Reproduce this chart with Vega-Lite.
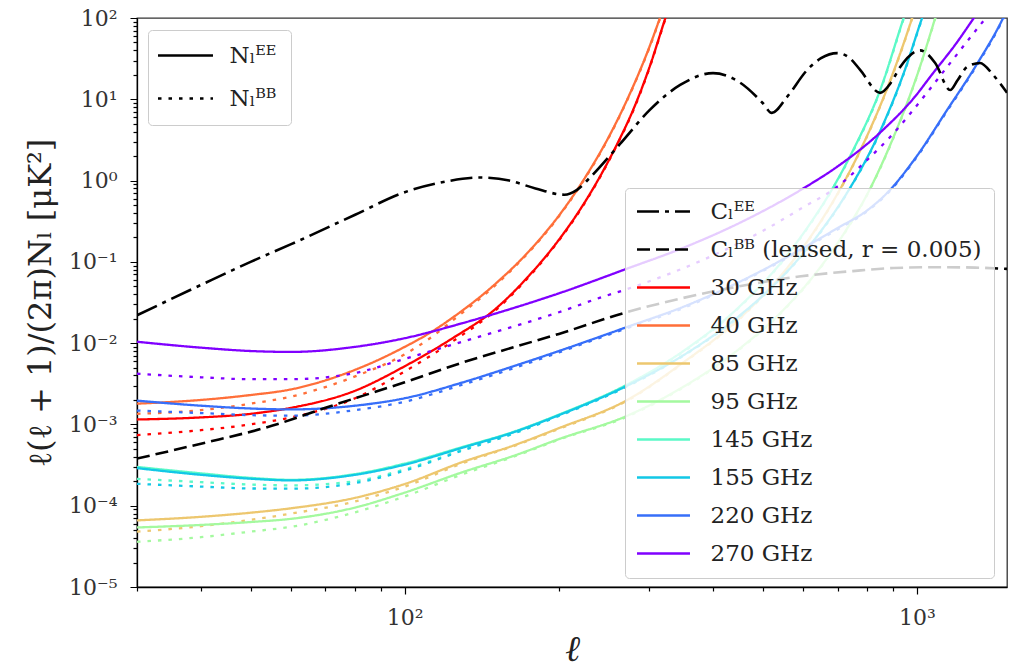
{
  "$schema": "https://vega.github.io/schema/vega-lite/v6.json",
  "width": 870,
  "height": 569,
  "autosize": "none",
  "padding": {"left": 137, "top": 18, "right": 2, "bottom": 82},
  "background": "white",
  "config": {"view": {"stroke": "#333333", "strokeWidth": 1.3}, "font": "DejaVu Serif"},
  "data": {"values": [
    {"s":"30 GHz","p":"Nₗᴱᴱ","l":30,"v":0.00115},{"s":"30 GHz","p":"Nₗᴱᴱ","l":40,"v":0.00122},{"s":"30 GHz","p":"Nₗᴱᴱ","l":50,"v":0.00135},{"s":"30 GHz","p":"Nₗᴱᴱ","l":60,"v":0.0016},{"s":"30 GHz","p":"Nₗᴱᴱ","l":80,"v":0.0026},{"s":"30 GHz","p":"Nₗᴱᴱ","l":100,"v":0.0052},{"s":"30 GHz","p":"Nₗᴱᴱ","l":124,"v":0.0115},{"s":"30 GHz","p":"Nₗᴱᴱ","l":150,"v":0.026},{"s":"30 GHz","p":"Nₗᴱᴱ","l":175,"v":0.068},{"s":"30 GHz","p":"Nₗᴱᴱ","l":200,"v":0.187},{"s":"30 GHz","p":"Nₗᴱᴱ","l":220,"v":0.44},{"s":"30 GHz","p":"Nₗᴱᴱ","l":240,"v":1.09},{"s":"30 GHz","p":"Nₗᴱᴱ","l":260,"v":2.83},{"s":"30 GHz","p":"Nₗᴱᴱ","l":280,"v":7.7},{"s":"30 GHz","p":"Nₗᴱᴱ","l":300,"v":24},{"s":"30 GHz","p":"Nₗᴱᴱ","l":322,"v":95},{"s":"30 GHz","p":"Nₗᴱᴱ","l":345,"v":350},
    {"s":"30 GHz","p":"Nₗᴮᴮ","l":30,"v":0.00074},{"s":"30 GHz","p":"Nₗᴮᴮ","l":40,"v":0.00085},{"s":"30 GHz","p":"Nₗᴮᴮ","l":50,"v":0.001},{"s":"30 GHz","p":"Nₗᴮᴮ","l":60,"v":0.00122},{"s":"30 GHz","p":"Nₗᴮᴮ","l":80,"v":0.0021},{"s":"30 GHz","p":"Nₗᴮᴮ","l":100,"v":0.0045},{"s":"30 GHz","p":"Nₗᴮᴮ","l":124,"v":0.0105},{"s":"30 GHz","p":"Nₗᴮᴮ","l":150,"v":0.025},{"s":"30 GHz","p":"Nₗᴮᴮ","l":175,"v":0.066},{"s":"30 GHz","p":"Nₗᴮᴮ","l":200,"v":0.183},{"s":"30 GHz","p":"Nₗᴮᴮ","l":220,"v":0.43},{"s":"30 GHz","p":"Nₗᴮᴮ","l":240,"v":1.07},{"s":"30 GHz","p":"Nₗᴮᴮ","l":260,"v":2.78},{"s":"30 GHz","p":"Nₗᴮᴮ","l":280,"v":7.5},{"s":"30 GHz","p":"Nₗᴮᴮ","l":300,"v":23.5},{"s":"30 GHz","p":"Nₗᴮᴮ","l":322,"v":93},{"s":"30 GHz","p":"Nₗᴮᴮ","l":345,"v":340},
    {"s":"40 GHz","p":"Nₗᴱᴱ","l":30,"v":0.0018},{"s":"40 GHz","p":"Nₗᴱᴱ","l":40,"v":0.002},{"s":"40 GHz","p":"Nₗᴱᴱ","l":50,"v":0.0023},{"s":"40 GHz","p":"Nₗᴱᴱ","l":60,"v":0.0027},{"s":"40 GHz","p":"Nₗᴱᴱ","l":80,"v":0.0047},{"s":"40 GHz","p":"Nₗᴱᴱ","l":100,"v":0.009},{"s":"40 GHz","p":"Nₗᴱᴱ","l":112,"v":0.0134},{"s":"40 GHz","p":"Nₗᴱᴱ","l":124,"v":0.0206},{"s":"40 GHz","p":"Nₗᴱᴱ","l":150,"v":0.053},{"s":"40 GHz","p":"Nₗᴱᴱ","l":175,"v":0.136},{"s":"40 GHz","p":"Nₗᴱᴱ","l":200,"v":0.37},{"s":"40 GHz","p":"Nₗᴱᴱ","l":225,"v":1.09},{"s":"40 GHz","p":"Nₗᴱᴱ","l":250,"v":3.4},{"s":"40 GHz","p":"Nₗᴱᴱ","l":275,"v":11.6},{"s":"40 GHz","p":"Nₗᴱᴱ","l":300,"v":43},{"s":"40 GHz","p":"Nₗᴱᴱ","l":315,"v":100},{"s":"40 GHz","p":"Nₗᴱᴱ","l":335,"v":310},
    {"s":"40 GHz","p":"Nₗᴮᴮ","l":30,"v":0.00135},{"s":"40 GHz","p":"Nₗᴮᴮ","l":40,"v":0.0015},{"s":"40 GHz","p":"Nₗᴮᴮ","l":50,"v":0.0018},{"s":"40 GHz","p":"Nₗᴮᴮ","l":60,"v":0.0022},{"s":"40 GHz","p":"Nₗᴮᴮ","l":80,"v":0.0039},{"s":"40 GHz","p":"Nₗᴮᴮ","l":100,"v":0.0073},{"s":"40 GHz","p":"Nₗᴮᴮ","l":112,"v":0.0115},{"s":"40 GHz","p":"Nₗᴮᴮ","l":124,"v":0.019},{"s":"40 GHz","p":"Nₗᴮᴮ","l":150,"v":0.051},{"s":"40 GHz","p":"Nₗᴮᴮ","l":175,"v":0.133},{"s":"40 GHz","p":"Nₗᴮᴮ","l":200,"v":0.363},{"s":"40 GHz","p":"Nₗᴮᴮ","l":225,"v":1.07},{"s":"40 GHz","p":"Nₗᴮᴮ","l":250,"v":3.33},{"s":"40 GHz","p":"Nₗᴮᴮ","l":275,"v":11.4},{"s":"40 GHz","p":"Nₗᴮᴮ","l":300,"v":42},{"s":"40 GHz","p":"Nₗᴮᴮ","l":315,"v":98},{"s":"40 GHz","p":"Nₗᴮᴮ","l":335,"v":300},
    {"s":"85 GHz","p":"Nₗᴱᴱ","l":30,"v":0.000066},{"s":"85 GHz","p":"Nₗᴱᴱ","l":40,"v":0.000073},{"s":"85 GHz","p":"Nₗᴱᴱ","l":50,"v":0.000082},{"s":"85 GHz","p":"Nₗᴱᴱ","l":60,"v":0.000093},{"s":"85 GHz","p":"Nₗᴱᴱ","l":80,"v":0.000125},{"s":"85 GHz","p":"Nₗᴱᴱ","l":100,"v":0.000185},{"s":"85 GHz","p":"Nₗᴱᴱ","l":130,"v":0.000347},{"s":"85 GHz","p":"Nₗᴱᴱ","l":163,"v":0.00055},{"s":"85 GHz","p":"Nₗᴱᴱ","l":200,"v":0.0009},{"s":"85 GHz","p":"Nₗᴱᴱ","l":272,"v":0.002},{"s":"85 GHz","p":"Nₗᴱᴱ","l":350,"v":0.0058},{"s":"85 GHz","p":"Nₗᴱᴱ","l":450,"v":0.02},{"s":"85 GHz","p":"Nₗᴱᴱ","l":550,"v":0.075},{"s":"85 GHz","p":"Nₗᴱᴱ","l":630,"v":0.236},{"s":"85 GHz","p":"Nₗᴱᴱ","l":702,"v":0.71},{"s":"85 GHz","p":"Nₗᴱᴱ","l":780,"v":2.54},{"s":"85 GHz","p":"Nₗᴱᴱ","l":880,"v":14.9},{"s":"85 GHz","p":"Nₗᴱᴱ","l":979,"v":100},{"s":"85 GHz","p":"Nₗᴱᴱ","l":1050,"v":430},
    {"s":"85 GHz","p":"Nₗᴮᴮ","l":30,"v":0.000048},{"s":"85 GHz","p":"Nₗᴮᴮ","l":40,"v":0.000056},{"s":"85 GHz","p":"Nₗᴮᴮ","l":50,"v":0.000067},{"s":"85 GHz","p":"Nₗᴮᴮ","l":60,"v":0.00008},{"s":"85 GHz","p":"Nₗᴮᴮ","l":80,"v":0.000113},{"s":"85 GHz","p":"Nₗᴮᴮ","l":100,"v":0.000172},{"s":"85 GHz","p":"Nₗᴮᴮ","l":130,"v":0.000335},{"s":"85 GHz","p":"Nₗᴮᴮ","l":163,"v":0.00054},{"s":"85 GHz","p":"Nₗᴮᴮ","l":200,"v":0.00088},{"s":"85 GHz","p":"Nₗᴮᴮ","l":272,"v":0.00196},{"s":"85 GHz","p":"Nₗᴮᴮ","l":350,"v":0.0057},{"s":"85 GHz","p":"Nₗᴮᴮ","l":450,"v":0.0196},{"s":"85 GHz","p":"Nₗᴮᴮ","l":550,"v":0.0735},{"s":"85 GHz","p":"Nₗᴮᴮ","l":630,"v":0.231},{"s":"85 GHz","p":"Nₗᴮᴮ","l":702,"v":0.7},{"s":"85 GHz","p":"Nₗᴮᴮ","l":780,"v":2.5},{"s":"85 GHz","p":"Nₗᴮᴮ","l":880,"v":14.6},{"s":"85 GHz","p":"Nₗᴮᴮ","l":979,"v":98},{"s":"85 GHz","p":"Nₗᴮᴮ","l":1050,"v":420},
    {"s":"95 GHz","p":"Nₗᴱᴱ","l":30,"v":0.000054},{"s":"95 GHz","p":"Nₗᴱᴱ","l":40,"v":0.000058},{"s":"95 GHz","p":"Nₗᴱᴱ","l":50,"v":0.000063},{"s":"95 GHz","p":"Nₗᴱᴱ","l":60,"v":0.000069},{"s":"95 GHz","p":"Nₗᴱᴱ","l":80,"v":0.000095},{"s":"95 GHz","p":"Nₗᴱᴱ","l":100,"v":0.000145},{"s":"95 GHz","p":"Nₗᴱᴱ","l":130,"v":0.00026},{"s":"95 GHz","p":"Nₗᴱᴱ","l":163,"v":0.00041},{"s":"95 GHz","p":"Nₗᴱᴱ","l":200,"v":0.00066},{"s":"95 GHz","p":"Nₗᴱᴱ","l":272,"v":0.00128},{"s":"95 GHz","p":"Nₗᴱᴱ","l":350,"v":0.0029},{"s":"95 GHz","p":"Nₗᴱᴱ","l":450,"v":0.0085},{"s":"95 GHz","p":"Nₗᴱᴱ","l":550,"v":0.026},{"s":"95 GHz","p":"Nₗᴱᴱ","l":650,"v":0.088},{"s":"95 GHz","p":"Nₗᴱᴱ","l":730,"v":0.254},{"s":"95 GHz","p":"Nₗᴱᴱ","l":803,"v":0.71},{"s":"95 GHz","p":"Nₗᴱᴱ","l":900,"v":3.4},{"s":"95 GHz","p":"Nₗᴱᴱ","l":1000,"v":19.3},{"s":"95 GHz","p":"Nₗᴱᴱ","l":1086,"v":100},{"s":"95 GHz","p":"Nₗᴱᴱ","l":1150,"v":340},
    {"s":"95 GHz","p":"Nₗᴮᴮ","l":30,"v":0.000036},{"s":"95 GHz","p":"Nₗᴮᴮ","l":40,"v":0.000041},{"s":"95 GHz","p":"Nₗᴮᴮ","l":50,"v":0.000048},{"s":"95 GHz","p":"Nₗᴮᴮ","l":60,"v":0.000055},{"s":"95 GHz","p":"Nₗᴮᴮ","l":80,"v":0.000083},{"s":"95 GHz","p":"Nₗᴮᴮ","l":100,"v":0.00013},{"s":"95 GHz","p":"Nₗᴮᴮ","l":130,"v":0.000245},{"s":"95 GHz","p":"Nₗᴮᴮ","l":163,"v":0.0004},{"s":"95 GHz","p":"Nₗᴮᴮ","l":200,"v":0.00065},{"s":"95 GHz","p":"Nₗᴮᴮ","l":272,"v":0.00125},{"s":"95 GHz","p":"Nₗᴮᴮ","l":350,"v":0.00284},{"s":"95 GHz","p":"Nₗᴮᴮ","l":450,"v":0.0083},{"s":"95 GHz","p":"Nₗᴮᴮ","l":550,"v":0.0255},{"s":"95 GHz","p":"Nₗᴮᴮ","l":650,"v":0.086},{"s":"95 GHz","p":"Nₗᴮᴮ","l":730,"v":0.249},{"s":"95 GHz","p":"Nₗᴮᴮ","l":803,"v":0.7},{"s":"95 GHz","p":"Nₗᴮᴮ","l":900,"v":3.33},{"s":"95 GHz","p":"Nₗᴮᴮ","l":1000,"v":19},{"s":"95 GHz","p":"Nₗᴮᴮ","l":1086,"v":98},{"s":"95 GHz","p":"Nₗᴮᴮ","l":1150,"v":335},
    {"s":"145 GHz","p":"Nₗᴱᴱ","l":30,"v":0.0003},{"s":"145 GHz","p":"Nₗᴱᴱ","l":40,"v":0.00025},{"s":"145 GHz","p":"Nₗᴱᴱ","l":50,"v":0.00022},{"s":"145 GHz","p":"Nₗᴱᴱ","l":60,"v":0.000208},{"s":"145 GHz","p":"Nₗᴱᴱ","l":80,"v":0.000245},{"s":"145 GHz","p":"Nₗᴱᴱ","l":100,"v":0.00033},{"s":"145 GHz","p":"Nₗᴱᴱ","l":130,"v":0.00053},{"s":"145 GHz","p":"Nₗᴱᴱ","l":163,"v":0.00081},{"s":"145 GHz","p":"Nₗᴱᴱ","l":200,"v":0.00132},{"s":"145 GHz","p":"Nₗᴱᴱ","l":272,"v":0.0031},{"s":"145 GHz","p":"Nₗᴱᴱ","l":350,"v":0.008},{"s":"145 GHz","p":"Nₗᴱᴱ","l":450,"v":0.028},{"s":"145 GHz","p":"Nₗᴱᴱ","l":550,"v":0.108},{"s":"145 GHz","p":"Nₗᴱᴱ","l":620,"v":0.3},{"s":"145 GHz","p":"Nₗᴱᴱ","l":677,"v":0.71},{"s":"145 GHz","p":"Nₗᴱᴱ","l":750,"v":2.33},{"s":"145 GHz","p":"Nₗᴱᴱ","l":850,"v":13.5},{"s":"145 GHz","p":"Nₗᴱᴱ","l":940,"v":95},{"s":"145 GHz","p":"Nₗᴱᴱ","l":1000,"v":300},
    {"s":"145 GHz","p":"Nₗᴮᴮ","l":30,"v":0.000214},{"s":"145 GHz","p":"Nₗᴮᴮ","l":40,"v":0.000195},{"s":"145 GHz","p":"Nₗᴮᴮ","l":50,"v":0.000182},{"s":"145 GHz","p":"Nₗᴮᴮ","l":60,"v":0.000178},{"s":"145 GHz","p":"Nₗᴮᴮ","l":80,"v":0.0002},{"s":"145 GHz","p":"Nₗᴮᴮ","l":100,"v":0.00028},{"s":"145 GHz","p":"Nₗᴮᴮ","l":130,"v":0.00049},{"s":"145 GHz","p":"Nₗᴮᴮ","l":163,"v":0.00078},{"s":"145 GHz","p":"Nₗᴮᴮ","l":200,"v":0.0013},{"s":"145 GHz","p":"Nₗᴮᴮ","l":272,"v":0.00304},{"s":"145 GHz","p":"Nₗᴮᴮ","l":350,"v":0.0078},{"s":"145 GHz","p":"Nₗᴮᴮ","l":450,"v":0.0275},{"s":"145 GHz","p":"Nₗᴮᴮ","l":550,"v":0.106},{"s":"145 GHz","p":"Nₗᴮᴮ","l":620,"v":0.294},{"s":"145 GHz","p":"Nₗᴮᴮ","l":677,"v":0.7},{"s":"145 GHz","p":"Nₗᴮᴮ","l":750,"v":2.28},{"s":"145 GHz","p":"Nₗᴮᴮ","l":850,"v":13.2},{"s":"145 GHz","p":"Nₗᴮᴮ","l":940,"v":93},{"s":"145 GHz","p":"Nₗᴮᴮ","l":1000,"v":295},
    {"s":"155 GHz","p":"Nₗᴱᴱ","l":30,"v":0.00029},{"s":"155 GHz","p":"Nₗᴱᴱ","l":40,"v":0.00024},{"s":"155 GHz","p":"Nₗᴱᴱ","l":50,"v":0.000215},{"s":"155 GHz","p":"Nₗᴱᴱ","l":60,"v":0.000205},{"s":"155 GHz","p":"Nₗᴱᴱ","l":80,"v":0.00024},{"s":"155 GHz","p":"Nₗᴱᴱ","l":100,"v":0.00032},{"s":"155 GHz","p":"Nₗᴱᴱ","l":130,"v":0.00052},{"s":"155 GHz","p":"Nₗᴱᴱ","l":163,"v":0.0008},{"s":"155 GHz","p":"Nₗᴱᴱ","l":200,"v":0.0013},{"s":"155 GHz","p":"Nₗᴱᴱ","l":272,"v":0.003},{"s":"155 GHz","p":"Nₗᴱᴱ","l":350,"v":0.0071},{"s":"155 GHz","p":"Nₗᴱᴱ","l":450,"v":0.0216},{"s":"155 GHz","p":"Nₗᴱᴱ","l":550,"v":0.069},{"s":"155 GHz","p":"Nₗᴱᴱ","l":650,"v":0.24},{"s":"155 GHz","p":"Nₗᴱᴱ","l":731,"v":0.71},{"s":"155 GHz","p":"Nₗᴱᴱ","l":850,"v":4.2},{"s":"155 GHz","p":"Nₗᴱᴱ","l":950,"v":24},{"s":"155 GHz","p":"Nₗᴱᴱ","l":1024,"v":100},{"s":"155 GHz","p":"Nₗᴱᴱ","l":1100,"v":330},
    {"s":"155 GHz","p":"Nₗᴮᴮ","l":30,"v":0.000186},{"s":"155 GHz","p":"Nₗᴮᴮ","l":40,"v":0.000172},{"s":"155 GHz","p":"Nₗᴮᴮ","l":50,"v":0.000163},{"s":"155 GHz","p":"Nₗᴮᴮ","l":60,"v":0.000162},{"s":"155 GHz","p":"Nₗᴮᴮ","l":80,"v":0.00019},{"s":"155 GHz","p":"Nₗᴮᴮ","l":100,"v":0.00027},{"s":"155 GHz","p":"Nₗᴮᴮ","l":130,"v":0.00048},{"s":"155 GHz","p":"Nₗᴮᴮ","l":163,"v":0.00077},{"s":"155 GHz","p":"Nₗᴮᴮ","l":200,"v":0.00127},{"s":"155 GHz","p":"Nₗᴮᴮ","l":272,"v":0.00294},{"s":"155 GHz","p":"Nₗᴮᴮ","l":350,"v":0.007},{"s":"155 GHz","p":"Nₗᴮᴮ","l":450,"v":0.0212},{"s":"155 GHz","p":"Nₗᴮᴮ","l":550,"v":0.068},{"s":"155 GHz","p":"Nₗᴮᴮ","l":650,"v":0.235},{"s":"155 GHz","p":"Nₗᴮᴮ","l":731,"v":0.7},{"s":"155 GHz","p":"Nₗᴮᴮ","l":850,"v":4.1},{"s":"155 GHz","p":"Nₗᴮᴮ","l":950,"v":23.5},{"s":"155 GHz","p":"Nₗᴮᴮ","l":1024,"v":98},{"s":"155 GHz","p":"Nₗᴮᴮ","l":1100,"v":325},
    {"s":"220 GHz","p":"Nₗᴱᴱ","l":30,"v":0.00196},{"s":"220 GHz","p":"Nₗᴱᴱ","l":40,"v":0.0017},{"s":"220 GHz","p":"Nₗᴱᴱ","l":50,"v":0.00157},{"s":"220 GHz","p":"Nₗᴱᴱ","l":60,"v":0.00153},{"s":"220 GHz","p":"Nₗᴱᴱ","l":80,"v":0.0017},{"s":"220 GHz","p":"Nₗᴱᴱ","l":100,"v":0.0021},{"s":"220 GHz","p":"Nₗᴱᴱ","l":130,"v":0.0033},{"s":"220 GHz","p":"Nₗᴱᴱ","l":163,"v":0.0052},{"s":"220 GHz","p":"Nₗᴱᴱ","l":200,"v":0.008},{"s":"220 GHz","p":"Nₗᴱᴱ","l":271,"v":0.0157},{"s":"220 GHz","p":"Nₗᴱᴱ","l":350,"v":0.028},{"s":"220 GHz","p":"Nₗᴱᴱ","l":400,"v":0.04},{"s":"220 GHz","p":"Nₗᴱᴱ","l":500,"v":0.079},{"s":"220 GHz","p":"Nₗᴱᴱ","l":600,"v":0.148},{"s":"220 GHz","p":"Nₗᴱᴱ","l":700,"v":0.26},{"s":"220 GHz","p":"Nₗᴱᴱ","l":800,"v":0.43},{"s":"220 GHz","p":"Nₗᴱᴱ","l":876,"v":0.71},{"s":"220 GHz","p":"Nₗᴱᴱ","l":1000,"v":2.0},{"s":"220 GHz","p":"Nₗᴱᴱ","l":1146,"v":7.4},{"s":"220 GHz","p":"Nₗᴱᴱ","l":1300,"v":25},{"s":"220 GHz","p":"Nₗᴱᴱ","l":1474,"v":100},{"s":"220 GHz","p":"Nₗᴱᴱ","l":1550,"v":200},
    {"s":"220 GHz","p":"Nₗᴮᴮ","l":30,"v":0.00148},{"s":"220 GHz","p":"Nₗᴮᴮ","l":40,"v":0.00138},{"s":"220 GHz","p":"Nₗᴮᴮ","l":50,"v":0.0013},{"s":"220 GHz","p":"Nₗᴮᴮ","l":60,"v":0.00128},{"s":"220 GHz","p":"Nₗᴮᴮ","l":80,"v":0.0015},{"s":"220 GHz","p":"Nₗᴮᴮ","l":100,"v":0.0019},{"s":"220 GHz","p":"Nₗᴮᴮ","l":130,"v":0.0031},{"s":"220 GHz","p":"Nₗᴮᴮ","l":163,"v":0.0049},{"s":"220 GHz","p":"Nₗᴮᴮ","l":200,"v":0.0077},{"s":"220 GHz","p":"Nₗᴮᴮ","l":271,"v":0.0152},{"s":"220 GHz","p":"Nₗᴮᴮ","l":350,"v":0.027},{"s":"220 GHz","p":"Nₗᴮᴮ","l":400,"v":0.039},{"s":"220 GHz","p":"Nₗᴮᴮ","l":500,"v":0.077},{"s":"220 GHz","p":"Nₗᴮᴮ","l":600,"v":0.144},{"s":"220 GHz","p":"Nₗᴮᴮ","l":700,"v":0.25},{"s":"220 GHz","p":"Nₗᴮᴮ","l":800,"v":0.42},{"s":"220 GHz","p":"Nₗᴮᴮ","l":876,"v":0.69},{"s":"220 GHz","p":"Nₗᴮᴮ","l":1000,"v":1.95},{"s":"220 GHz","p":"Nₗᴮᴮ","l":1146,"v":7.2},{"s":"220 GHz","p":"Nₗᴮᴮ","l":1300,"v":24.3},{"s":"220 GHz","p":"Nₗᴮᴮ","l":1474,"v":97},{"s":"220 GHz","p":"Nₗᴮᴮ","l":1550,"v":195},
    {"s":"270 GHz","p":"Nₗᴱᴱ","l":30,"v":0.0104},{"s":"270 GHz","p":"Nₗᴱᴱ","l":40,"v":0.0088},{"s":"270 GHz","p":"Nₗᴱᴱ","l":50,"v":0.008},{"s":"270 GHz","p":"Nₗᴱᴱ","l":60,"v":0.0078},{"s":"270 GHz","p":"Nₗᴱᴱ","l":80,"v":0.009},{"s":"270 GHz","p":"Nₗᴱᴱ","l":100,"v":0.0115},{"s":"270 GHz","p":"Nₗᴱᴱ","l":130,"v":0.0177},{"s":"270 GHz","p":"Nₗᴱᴱ","l":163,"v":0.027},{"s":"270 GHz","p":"Nₗᴱᴱ","l":200,"v":0.041},{"s":"270 GHz","p":"Nₗᴱᴱ","l":271,"v":0.082},{"s":"270 GHz","p":"Nₗᴱᴱ","l":350,"v":0.149},{"s":"270 GHz","p":"Nₗᴱᴱ","l":450,"v":0.3},{"s":"270 GHz","p":"Nₗᴱᴱ","l":596,"v":0.78},{"s":"270 GHz","p":"Nₗᴱᴱ","l":700,"v":1.49},{"s":"270 GHz","p":"Nₗᴱᴱ","l":848,"v":3.9},{"s":"270 GHz","p":"Nₗᴱᴱ","l":1000,"v":11.5},{"s":"270 GHz","p":"Nₗᴱᴱ","l":1062,"v":18.9},{"s":"270 GHz","p":"Nₗᴱᴱ","l":1200,"v":51},{"s":"270 GHz","p":"Nₗᴱᴱ","l":1288,"v":97},{"s":"270 GHz","p":"Nₗᴱᴱ","l":1400,"v":205},
    {"s":"270 GHz","p":"Nₗᴮᴮ","l":30,"v":0.0042},{"s":"270 GHz","p":"Nₗᴮᴮ","l":40,"v":0.0038},{"s":"270 GHz","p":"Nₗᴮᴮ","l":50,"v":0.0036},{"s":"270 GHz","p":"Nₗᴮᴮ","l":60,"v":0.0036},{"s":"270 GHz","p":"Nₗᴮᴮ","l":80,"v":0.0043},{"s":"270 GHz","p":"Nₗᴮᴮ","l":100,"v":0.0064},{"s":"270 GHz","p":"Nₗᴮᴮ","l":130,"v":0.0105},{"s":"270 GHz","p":"Nₗᴮᴮ","l":163,"v":0.016},{"s":"270 GHz","p":"Nₗᴮᴮ","l":200,"v":0.024},{"s":"270 GHz","p":"Nₗᴮᴮ","l":240,"v":0.036},{"s":"270 GHz","p":"Nₗᴮᴮ","l":271,"v":0.046},{"s":"270 GHz","p":"Nₗᴮᴮ","l":400,"v":0.12},{"s":"270 GHz","p":"Nₗᴮᴮ","l":500,"v":0.24},{"s":"270 GHz","p":"Nₗᴮᴮ","l":600,"v":0.47},{"s":"270 GHz","p":"Nₗᴮᴮ","l":699,"v":0.84},{"s":"270 GHz","p":"Nₗᴮᴮ","l":800,"v":1.8},{"s":"270 GHz","p":"Nₗᴮᴮ","l":900,"v":3.8},{"s":"270 GHz","p":"Nₗᴮᴮ","l":984,"v":7.4},{"s":"270 GHz","p":"Nₗᴮᴮ","l":1146,"v":25},{"s":"270 GHz","p":"Nₗᴮᴮ","l":1349,"v":92},{"s":"270 GHz","p":"Nₗᴮᴮ","l":1450,"v":160},
    {"s":"Cₗᴱᴱ","p":"C","l":30,"v":0.022},{"s":"Cₗᴱᴱ","p":"C","l":40,"v":0.052},{"s":"Cₗᴱᴱ","p":"C","l":50,"v":0.1},{"s":"Cₗᴱᴱ","p":"C","l":60,"v":0.165},{"s":"Cₗᴱᴱ","p":"C","l":80,"v":0.38},{"s":"Cₗᴱᴱ","p":"C","l":100,"v":0.72},{"s":"Cₗᴱᴱ","p":"C","l":120,"v":0.97},{"s":"Cₗᴱᴱ","p":"C","l":140,"v":1.09},{"s":"Cₗᴱᴱ","p":"C","l":160,"v":1.0},{"s":"Cₗᴱᴱ","p":"C","l":180,"v":0.8},{"s":"Cₗᴱᴱ","p":"C","l":205,"v":0.67},{"s":"Cₗᴱᴱ","p":"C","l":217,"v":0.77},{"s":"Cₗᴱᴱ","p":"C","l":230,"v":1.09},{"s":"Cₗᴱᴱ","p":"C","l":263,"v":2.8},{"s":"Cₗᴱᴱ","p":"C","l":301,"v":7.4},{"s":"Cₗᴱᴱ","p":"C","l":345,"v":15},{"s":"Cₗᴱᴱ","p":"C","l":400,"v":21},{"s":"Cₗᴱᴱ","p":"C","l":452,"v":16},{"s":"Cₗᴱᴱ","p":"C","l":500,"v":9.0},{"s":"Cₗᴱᴱ","p":"C","l":521,"v":6.8},{"s":"Cₗᴱᴱ","p":"C","l":558,"v":10.7},{"s":"Cₗᴱᴱ","p":"C","l":611,"v":23},{"s":"Cₗᴱᴱ","p":"C","l":650,"v":32},{"s":"Cₗᴱᴱ","p":"C","l":699,"v":37},{"s":"Cₗᴱᴱ","p":"C","l":740,"v":32},{"s":"Cₗᴱᴱ","p":"C","l":775,"v":23},{"s":"Cₗᴱᴱ","p":"C","l":848,"v":12},{"s":"Cₗᴱᴱ","p":"C","l":890,"v":16},{"s":"Cₗᴱᴱ","p":"C","l":928,"v":25},{"s":"Cₗᴱᴱ","p":"C","l":1015,"v":40},{"s":"Cₗᴱᴱ","p":"C","l":1086,"v":28},{"s":"Cₗᴱᴱ","p":"C","l":1162,"v":13},{"s":"Cₗᴱᴱ","p":"C","l":1200,"v":17},{"s":"Cₗᴱᴱ","p":"C","l":1254,"v":25},{"s":"Cₗᴱᴱ","p":"C","l":1329,"v":28},{"s":"Cₗᴱᴱ","p":"C","l":1409,"v":20},{"s":"Cₗᴱᴱ","p":"C","l":1500,"v":12},
    {"s":"Cₗᴮᴮ (lensed, r = 0.005)","p":"C","l":30,"v":0.00038},{"s":"Cₗᴮᴮ (lensed, r = 0.005)","p":"C","l":40,"v":0.00058},{"s":"Cₗᴮᴮ (lensed, r = 0.005)","p":"C","l":55,"v":0.00096},{"s":"Cₗᴮᴮ (lensed, r = 0.005)","p":"C","l":70,"v":0.0016},{"s":"Cₗᴮᴮ (lensed, r = 0.005)","p":"C","l":100,"v":0.0033},{"s":"Cₗᴮᴮ (lensed, r = 0.005)","p":"C","l":130,"v":0.0058},{"s":"Cₗᴮᴮ (lensed, r = 0.005)","p":"C","l":163,"v":0.0089},{"s":"Cₗᴮᴮ (lensed, r = 0.005)","p":"C","l":200,"v":0.013},{"s":"Cₗᴮᴮ (lensed, r = 0.005)","p":"C","l":271,"v":0.024},{"s":"Cₗᴮᴮ (lensed, r = 0.005)","p":"C","l":350,"v":0.036},{"s":"Cₗᴮᴮ (lensed, r = 0.005)","p":"C","l":450,"v":0.05},{"s":"Cₗᴮᴮ (lensed, r = 0.005)","p":"C","l":589,"v":0.066},{"s":"Cₗᴮᴮ (lensed, r = 0.005)","p":"C","l":750,"v":0.077},{"s":"Cₗᴮᴮ (lensed, r = 0.005)","p":"C","l":900,"v":0.084},{"s":"Cₗᴮᴮ (lensed, r = 0.005)","p":"C","l":1100,"v":0.086},{"s":"Cₗᴮᴮ (lensed, r = 0.005)","p":"C","l":1300,"v":0.085},{"s":"Cₗᴮᴮ (lensed, r = 0.005)","p":"C","l":1500,"v":0.082}
  ]},
  "encoding": {
    "x": {
      "field": "l", "type": "quantitative",
      "scale": {"type": "log", "domain": [30, 1500], "nice": false},
      "axis": {
        "title": "ℓ", "titleFont": "DejaVu Serif", "titleFontSize": 36, "titleFontStyle": "italic", "titleFontWeight": "normal", "titleColor": "#222", "titlePadding": 4,
        "values": [30, 40, 50, 60, 70, 80, 90, 100, 200, 300, 400, 500, 600, 700, 800, 900, 1000],
        "labelExpr": "(abs(log(datum.value)/LN10 - round(log(datum.value)/LN10)) < 0.001) ? '10' + replace(replace(replace(replace(replace(replace(replace(toString(round(log(datum.value)/LN10)), '-', '⁻'), '0', '⁰'), '1', '¹'), '2', '²'), '3', '³'), '4', '⁴'), '5', '⁵') : ''",
        "labelFont": "DejaVu Serif", "labelFontSize": 22, "labelColor": "#333", "labelPadding": 13,
        "labelOverlap": false, "labelFlush": false, "labelBound": false,
        "tickSize": 7, "tickColor": "black", "tickWidth": 1.2,
        "tickDash": {"condition": {"test": "abs(log(datum.value)/LN10 - round(log(datum.value)/LN10)) > 0.001", "value": [4, 30]}, "value": [1, 0]},
        "domainColor": "black", "domainWidth": 1.3, "grid": false
      }
    },
    "y": {
      "field": "v", "type": "quantitative",
      "scale": {"type": "log", "domain": [0.00001, 100], "nice": false},
      "axis": {
        "title": "ℓ(ℓ + 1)/(2π)Nₗ [μK²]", "titleFont": "DejaVu Serif", "titleFontSize": 32, "titleFontWeight": "normal", "titleColor": "#222", "titlePadding": 11,
        "values": [0.00001,0.00002,0.00003,0.00004,0.00005,0.00006,0.00007,0.00008,0.00009,0.0001,0.0002,0.0003,0.0004,0.0005,0.0006,0.0007,0.0008,0.0009,0.001,0.002,0.003,0.004,0.005,0.006,0.007,0.008,0.009,0.01,0.02,0.03,0.04,0.05,0.06,0.07,0.08,0.09,0.1,0.2,0.3,0.4,0.5,0.6,0.7,0.8,0.9,1,2,3,4,5,6,7,8,9,10,20,30,40,50,60,70,80,90,100],
        "labelExpr": "(abs(log(datum.value)/LN10 - round(log(datum.value)/LN10)) < 0.001) ? '10' + replace(replace(replace(replace(replace(replace(replace(toString(round(log(datum.value)/LN10)), '-', '⁻'), '0', '⁰'), '1', '¹'), '2', '²'), '3', '³'), '4', '⁴'), '5', '⁵') : ''",
        "labelFont": "DejaVu Serif", "labelFontSize": 22, "labelColor": "#333", "labelPadding": 13,
        "labelOverlap": false, "labelFlush": false, "labelBound": false,
        "tickSize": 7, "tickColor": "black", "tickWidth": 1.2,
        "tickDash": {"condition": {"test": "abs(log(datum.value)/LN10 - round(log(datum.value)/LN10)) > 0.001", "value": [4, 30]}, "value": [1, 0]},
        "domainColor": "black", "domainWidth": 1.3, "grid": false
      }
    }
  },
  "layer": [
    {
      "transform": [{"filter": "datum.p != 'C'"}],
      "mark": {"type": "line", "clip": true, "strokeWidth": 2.3, "interpolate": "monotone"},
      "encoding": {
        "color": {
          "field": "s", "type": "nominal",
          "scale": {"domain": ["30 GHz", "40 GHz", "85 GHz", "95 GHz", "145 GHz", "155 GHz", "220 GHz", "270 GHz"],
                    "range": ["#ff0000", "#ff6f39", "#edc76f", "#a4f99f", "#5bf9c7", "#12c8e6", "#376ff9", "#8000ff"]},
          "legend": null
        },
        "strokeDash": {
          "field": "p", "type": "nominal",
          "scale": {"domain": ["Nₗᴱᴱ", "Nₗᴮᴮ"], "range": [[1, 0], [3.5, 7]]},
          "legend": {
            "orient": "none", "legendX": 11, "legendY": 12, "title": null,
            "symbolType": "M0,0H6", "symbolSize": 336, "symbolStrokeWidth": 2.5, "symbolStrokeColor": "black", "symbolFillColor": "transparent",
            "symbolOffset": -15.5, "labelOffset": 60,
            "labelFont": "DejaVu Serif", "labelFontSize": 23, "labelColor": "#222", "labelLimit": 400,
            "rowPadding": 19, "padding": 14,
            "fillColor": "rgba(255,255,255,0.8)", "strokeColor": "#cccccc", "cornerRadius": 4
          }
        }
      }
    },
    {
      "transform": [{"filter": "datum.p == 'C'"}],
      "mark": {"type": "line", "clip": true, "strokeWidth": 2.6, "interpolate": "monotone"},
      "encoding": {
        "color": {
          "field": "s", "type": "nominal",
          "scale": {"domain": ["Cₗᴱᴱ", "Cₗᴮᴮ (lensed, r = 0.005)", "30 GHz", "40 GHz", "85 GHz", "95 GHz", "145 GHz", "155 GHz", "220 GHz", "270 GHz"],
                    "range": ["#000000", "#000000", "#ff0000", "#ff6f39", "#edc76f", "#a4f99f", "#5bf9c7", "#12c8e6", "#376ff9", "#8000ff"]},
          "legend": {
            "orient": "none", "legendX": 488, "legendY": 170, "title": null,
            "symbolType": "M0,0H6", "symbolSize": 312, "symbolStrokeWidth": 2.5, "symbolFillColor": "transparent",
            "symbolOffset": -11.5, "labelOffset": 62,
            "labelFont": "DejaVu Serif", "labelFontSize": 23, "labelColor": "#222", "labelLimit": 500,
            "rowPadding": 14, "padding": 12,
            "fillColor": "rgba(255,255,255,0.8)", "strokeColor": "#cccccc", "cornerRadius": 4
          }
        },
        "strokeDash": {
          "field": "s", "type": "nominal",
          "scale": {"domain": ["Cₗᴱᴱ", "Cₗᴮᴮ (lensed, r = 0.005)", "30 GHz", "40 GHz", "85 GHz", "95 GHz", "145 GHz", "155 GHz", "220 GHz", "270 GHz"],
                    "range": [[22, 6, 4, 6], [13, 6], [1, 0], [1, 0], [1, 0], [1, 0], [1, 0], [1, 0], [1, 0], [1, 0]]},
          "legend": {
            "orient": "none", "legendX": 488, "legendY": 170, "title": null,
            "symbolType": "M0,0H6", "symbolSize": 312, "symbolStrokeWidth": 2.5, "symbolFillColor": "transparent",
            "symbolOffset": -11.5, "labelOffset": 62,
            "labelFont": "DejaVu Serif", "labelFontSize": 23, "labelColor": "#222", "labelLimit": 500,
            "rowPadding": 14, "padding": 12,
            "fillColor": "rgba(255,255,255,0.8)", "strokeColor": "#cccccc", "cornerRadius": 4
          }
        }
      }
    }
  ],
  "resolve": {"scale": {"color": "independent", "strokeDash": "independent"}}
}
